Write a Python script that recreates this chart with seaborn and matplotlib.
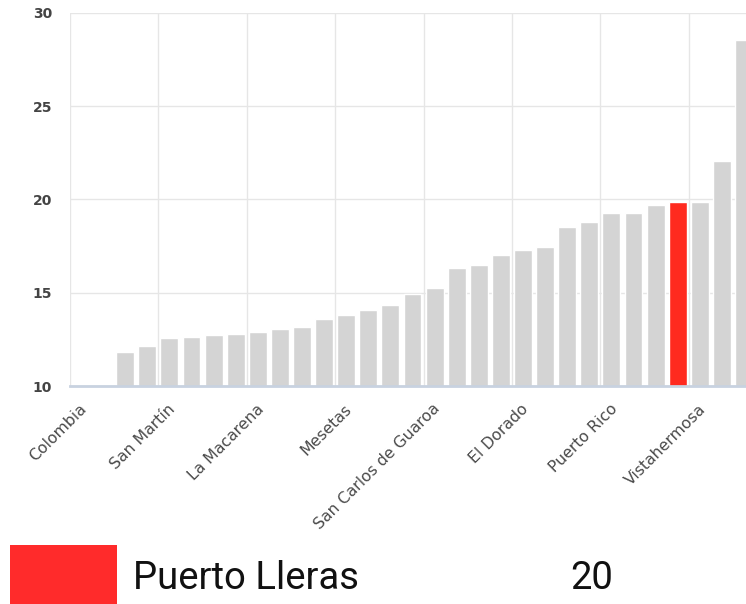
import numpy as np
import pandas as pd
import matplotlib
matplotlib.use("Agg")
import matplotlib.pyplot as plt
import matplotlib.transforms as mtransforms
from matplotlib.patches import Rectangle
import seaborn as sns

# Municipal values, sorted ascending (first two categories fall below the axis minimum)
posicion = list(range(31))
valores = [np.nan, np.nan, 11.8, 12.15, 12.6, 12.65, 12.75, 12.8, 12.9, 13.05,
           13.15, 13.6, 13.8, 14.1, 14.35, 14.95, 15.25, 16.35, 16.5, 17.05,
           17.3, 17.45, 18.55, 18.8, 19.25, 19.25, 19.7, 19.85, 19.85, 22.05,
           28.55]
destacado = 27  # Puerto Lleras

tick_pos = [0, 4, 8, 12, 16, 20, 24, 28]
tick_labels = ["Colombia", "San Martín", "La Macarena", "Mesetas",
               "San Carlos de Guaroa", "El Dorado", "Puerto Rico", "Vistahermosa"]
y_ticks = [10, 15, 20, 25, 30]

leyenda_nombre = "Puerto Lleras"
leyenda_valor = "20"

GRIS = "#d4d4d4"
ROJO = "#ff2a1f"


def main():
    df = pd.DataFrame({"pos": posicion, "valor": valores})
    df["grupo"] = np.where(df["pos"] == destacado, "sel", "otro")

    sns.set_style("white")
    fig = plt.figure(figsize=(7.46, 6.04), dpi=100)
    ax = fig.add_axes([70 / 746, 1 - 386 / 604, 676 / 746, 373 / 604])

    sns.barplot(data=df, x="pos", y="valor", hue="grupo",
                palette={"otro": GRIS, "sel": ROJO}, dodge=False,
                width=0.81, legend=False, saturation=1, ax=ax,
                order=posicion, errorbar=None)

    ax.set_xlim(-0.5, 30.09)
    ax.set_ylim(10, 30)
    ax.set_yticks(y_ticks)
    ax.set_yticklabels([str(v) for v in y_ticks], fontsize=10,
                       fontweight="bold", color="#444444")
    ax.tick_params(axis="y", length=0, pad=13)

    ax.set_xticks(tick_pos)
    ax.set_xticklabels(tick_labels, rotation=45, ha="right", va="top",
                       rotation_mode="anchor", fontsize=11.3, color="#4a4a4a")
    ax.tick_params(axis="x", which="major", length=5, width=1,
                   color="#ccd6eb", pad=6)
    offset = mtransforms.ScaledTranslation(-2 / 100, 0, fig.dpi_scale_trans)
    for lbl in ax.get_xticklabels():
        lbl.set_transform(lbl.get_transform() + offset)

    # vertical grid between label groups
    ax.set_xticks(np.arange(-0.5, 31, 4), minor=True)
    ax.tick_params(axis="x", which="minor", length=0)
    ax.grid(axis="x", which="minor", color="#e6e6e6", linewidth=1)
    ax.grid(axis="y", which="major", color="#e6e6e6", linewidth=1)
    ax.set_axisbelow(True)

    for side in ["top", "right", "left"]:
        ax.spines[side].set_visible(False)
    ax.spines["bottom"].set_color("#c8d2e0")
    ax.spines["bottom"].set_linewidth(2)
    ax.spines["bottom"].set_zorder(5)

    ax.set_xlabel("")
    ax.set_ylabel("")

    # legend box at the bottom
    fig.patches.append(Rectangle((10 / 746, 0), 107 / 746, 59 / 604,
                                 transform=fig.transFigure,
                                 facecolor="#ff2b2b", edgecolor="none"))
    fig.text(133 / 746, 1 - 589 / 604, leyenda_nombre, fontsize=27.5,
             family="Roboto", color="#111111", ha="left", va="baseline")
    fig.text(570 / 746, 1 - 589 / 604, leyenda_valor, fontsize=27.5,
             family="Roboto", color="#111111", ha="left", va="baseline")

    fig.savefig("out.png", dpi=100)


if __name__ == "__main__":
    main()
